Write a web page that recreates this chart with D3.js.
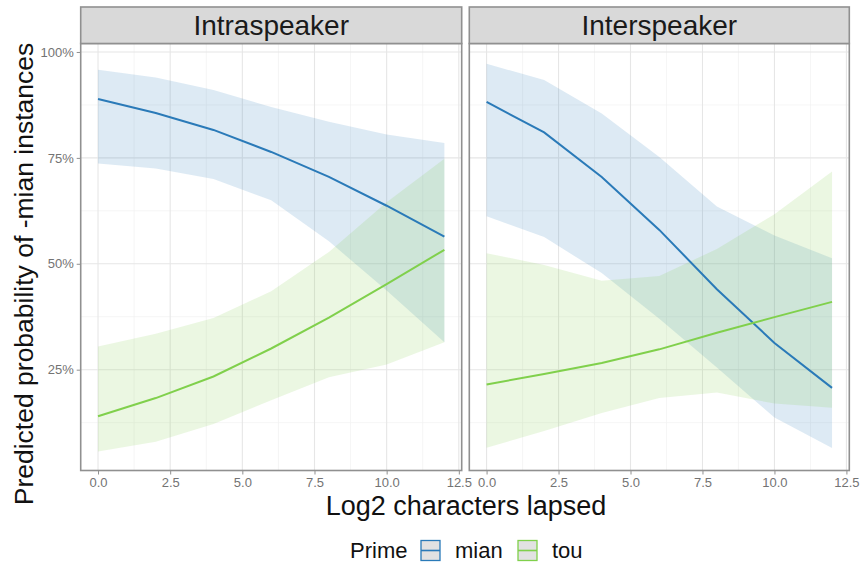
<!DOCTYPE html>
<html>
<head>
<meta charset="utf-8">
<script src="https://cdn.jsdelivr.net/npm/d3@7"></script>
<style>
  body { margin: 0; background: #fff; }
  text { font-family: "Liberation Sans", Arial, sans-serif; }
</style>
</head>
<body>
<div id="chart"></div>
<script>
// prediction points (log2 characters lapsed)
var xs = [0, 2, 4, 6, 8, 10, 12];

var intraMian   = [0.889, 0.856, 0.816, 0.764, 0.705, 0.637, 0.564];
var intraMianLo = [0.737, 0.725, 0.700, 0.650, 0.553, 0.437, 0.315];
var intraMianHi = [0.958, 0.940, 0.910, 0.870, 0.835, 0.805, 0.785];
var intraTou    = [0.140, 0.183, 0.234, 0.300, 0.373, 0.452, 0.533];
var intraTouLo  = [0.057, 0.080, 0.122, 0.178, 0.232, 0.262, 0.315];
var intraTouHi  = [0.305, 0.335, 0.372, 0.435, 0.528, 0.645, 0.748];

var interMian   = [0.882, 0.810, 0.705, 0.580, 0.440, 0.313, 0.207];
var interMianLo = [0.612, 0.563, 0.478, 0.370, 0.255, 0.137, 0.065];
var interMianHi = [0.972, 0.934, 0.855, 0.752, 0.635, 0.567, 0.513];
var interTou    = [0.215, 0.240, 0.266, 0.298, 0.337, 0.374, 0.410];
var interTouLo  = [0.066, 0.105, 0.148, 0.183, 0.196, 0.170, 0.160];
var interTouHi  = [0.525, 0.497, 0.460, 0.471, 0.535, 0.617, 0.718];

var panelNames = ["Intraspeaker", "Interspeaker"];
var primes = ["mian", "tou"];
var xTicks = [0, 2.5, 5, 7.5, 10, 12.5];
var yTicks = [0.25, 0.5, 0.75, 1];

var colors = { mian: "#2a7ab8", tou: "#80d04c" };

var svgWidth = 860, svgHeight = 564;
var panelTop = 43.5, panelBottom = 470.5, stripTop = 7;
var panelX = [[80.7, 461.7], [469.3, 849.3]];

var svg = d3.select("#chart")
  .append("svg")
  .attr("width", svgWidth)
  .attr("height", svgHeight);

var panels = [
  { name: panelNames[0], series: [
      { prime: "mian", fit: intraMian, lo: intraMianLo, hi: intraMianHi },
      { prime: "tou", fit: intraTou, lo: intraTouLo, hi: intraTouHi } ] },
  { name: panelNames[1], series: [
      { prime: "mian", fit: interMian, lo: interMianLo, hi: interMianHi },
      { prime: "tou", fit: interTou, lo: interTouLo, hi: interTouHi } ] }
];

var yScale = d3.scaleLinear()
  .domain([0.012, 1.02])
  .range([panelBottom, panelTop]);

panels.forEach(function(p, i) {
  var xScale = d3.scaleLinear()
    .domain([-0.6, 12.6])
    .range(panelX[i]);

  var g = svg.append("g");

  // grid
  var minorX = xTicks.map(d => d + 1.25).filter(d => d < 12.6);
  var minorY = yTicks.map(d => d - 0.125);
  g.selectAll(".mgx").data(minorX).enter().append("line")
    .attr("x1", d => xScale(d)).attr("x2", d => xScale(d))
    .attr("y1", panelTop).attr("y2", panelBottom)
    .attr("stroke", "#f1f1f1").attr("stroke-width", 0.7);
  g.selectAll(".mgy").data(minorY).enter().append("line")
    .attr("x1", panelX[i][0]).attr("x2", panelX[i][1])
    .attr("y1", d => yScale(d)).attr("y2", d => yScale(d))
    .attr("stroke", "#f1f1f1").attr("stroke-width", 0.7);
  g.selectAll(".gx").data(xTicks).enter().append("line")
    .attr("x1", d => xScale(d)).attr("x2", d => xScale(d))
    .attr("y1", panelTop).attr("y2", panelBottom)
    .attr("stroke", "#e6e6e6").attr("stroke-width", 1.1);
  g.selectAll(".gy").data(yTicks).enter().append("line")
    .attr("x1", panelX[i][0]).attr("x2", panelX[i][1])
    .attr("y1", d => yScale(d)).attr("y2", d => yScale(d))
    .attr("stroke", "#e6e6e6").attr("stroke-width", 1.1);

  var area = d3.area()
    .x((d, k) => xScale(xs[k]))
    .y0(d => yScale(d[0]))
    .y1(d => yScale(d[1]));
  var line = d3.line()
    .x((d, k) => xScale(xs[k]))
    .y(d => yScale(d));

  p.series.forEach(function(s) {
    g.append("path")
      .datum(s.lo.map((v, k) => [v, s.hi[k]]))
      .attr("d", area)
      .attr("fill", colors[s.prime])
      .attr("fill-opacity", 0.16);
  });
  p.series.forEach(function(s) {
    g.append("path")
      .datum(s.fit)
      .attr("d", line)
      .attr("fill", "none")
      .attr("stroke", colors[s.prime])
      .attr("stroke-width", 2);
  });

  // border
  g.append("rect")
    .attr("x", panelX[i][0]).attr("y", panelTop)
    .attr("width", panelX[i][1] - panelX[i][0])
    .attr("height", panelBottom - panelTop)
    .attr("fill", "none").attr("stroke", "#909090").attr("stroke-width", 1.6);

  // strip
  g.append("rect")
    .attr("x", panelX[i][0]).attr("y", stripTop)
    .attr("width", panelX[i][1] - panelX[i][0])
    .attr("height", panelTop - stripTop)
    .attr("fill", "#d9d9d9").attr("stroke", "#909090").attr("stroke-width", 1.6);
  g.append("text")
    .attr("x", (panelX[i][0] + panelX[i][1]) / 2)
    .attr("y", 35)
    .attr("text-anchor", "middle")
    .attr("font-size", 28)
    .attr("fill", "#1a1a1a")
    .text(p.name);

  // x axis
  var xAxis = d3.axisBottom(xScale)
    .tickValues(xTicks)
    .tickFormat(d3.format(".1f"))
    .tickSize(4)
    .tickPadding(3);
  var ax = g.append("g")
    .attr("transform", `translate(0, ${panelBottom})`)
    .call(xAxis);
  ax.select(".domain").remove();
  ax.selectAll("line").attr("stroke", "#909090");
  ax.selectAll("text").attr("font-size", 13).attr("fill", "#737373")
    .attr("font-family", "Liberation Sans, Arial, sans-serif");

  if (i === 0) {
    var yAxis = d3.axisLeft(yScale)
      .tickValues(yTicks)
      .tickFormat(d3.format(".0%"))
      .tickSize(4)
      .tickPadding(3);
    var ay = g.append("g")
      .attr("transform", `translate(${panelX[i][0]}, 0)`)
      .call(yAxis);
    ay.select(".domain").remove();
    ay.selectAll("line").attr("stroke", "#909090");
    ay.selectAll("text").attr("font-size", 13).attr("fill", "#737373")
      .attr("font-family", "Liberation Sans, Arial, sans-serif");
  }
});

// axis titles
svg.append("text")
  .attr("x", 466).attr("y", 515)
  .attr("text-anchor", "middle")
  .attr("font-size", 27)
  .attr("fill", "#111")
  .text("Log2 characters lapsed");

svg.append("text")
  .attr("transform", "translate(33, 274) rotate(-90)")
  .attr("text-anchor", "middle")
  .attr("font-size", 26.5)
  .attr("fill", "#111")
  .text("Predicted probability of -mian instances");

// legend
var legend = svg.append("g");
legend.append("text")
  .attr("x", 350).attr("y", 558)
  .attr("font-size", 22).attr("fill", "#111")
  .text("Prime");
var keyX = [421, 518];
primes.forEach(function(pr, k) {
  legend.append("rect")
    .attr("x", keyX[k]).attr("y", 540.5)
    .attr("width", 19).attr("height", 20)
    .attr("fill", "#e2e2e2")
    .attr("stroke", colors[pr]).attr("stroke-width", 1.3);
  legend.append("line")
    .attr("x1", keyX[k]).attr("x2", keyX[k] + 19)
    .attr("y1", 550.5).attr("y2", 550.5)
    .attr("stroke", colors[pr]).attr("stroke-width", 1.6);
  legend.append("text")
    .attr("x", keyX[k] + 34).attr("y", 558)
    .attr("font-size", 22).attr("fill", "#111")
    .text(pr);
});
</script>
</body>
</html>
